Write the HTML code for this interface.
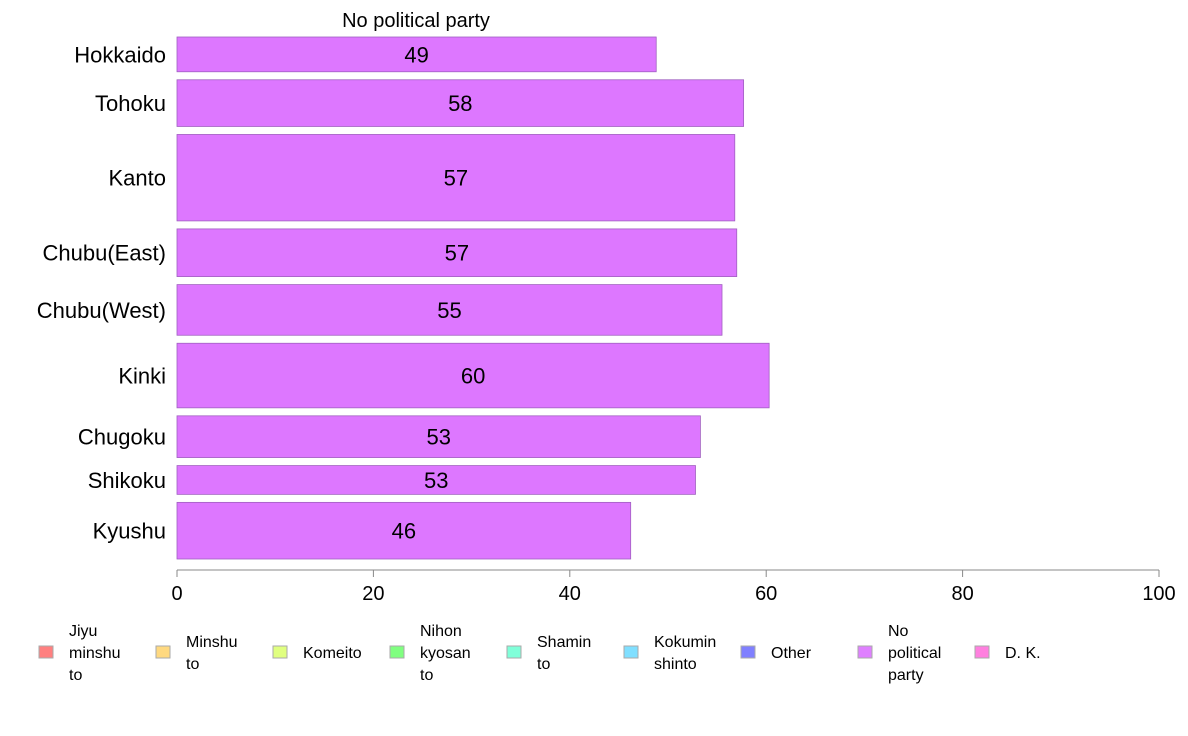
<!DOCTYPE html>
<html><head><meta charset="utf-8"><style>
body{margin:0;background:#fff;font-family:"Liberation Sans",Arial,sans-serif}
svg{display:block}
</style></head><body>
<svg id="c" width="1188" height="736" font-family="Liberation Sans, Arial, sans-serif"></svg>
<script>
const categories=["Hokkaido","Tohoku","Kanto","Chubu(East)","Chubu(West)","Kinki","Chugoku","Shikoku","Kyushu"];
const values=[48.8,57.7,56.8,57.0,55.5,60.3,53.3,52.8,46.2];
const labels=["49","58","57","57","55","60","53","53","46"];
const weights=[35,47,87,48,51,65,42,29,57];
const ticks=[0,20,40,60,80,100];
const legendNames=[["Jiyu","minshu","to"],["Minshu","to"],["Komeito"],["Nihon","kyosan","to"],["Shamin","to"],["Kokumin","shinto"],["Other"],["No","political","party"],["D. K."]];
const legendColors=["#ff8080","#ffd980","#e0ff80","#80ff80","#80ffd9","#80dfff","#8080ff","#df80ff","#ff80df"];
const ns="http://www.w3.org/2000/svg",svgEl=document.getElementById('c');
function mk(t,a,p){const e=document.createElementNS(ns,t);for(const k in a)e.setAttribute(k,a[k]);(p||svgEl).appendChild(e);return e;}
const x0=177,x1=1159,xs=v=>x0+(v/100)*(x1-x0);
const yTop=37,yBottom=559,gap=8;
const tot=weights.reduce((a,b)=>a+b,0),avail=yBottom-yTop-gap*(weights.length-1);
let t=mk('text',{x:416,y:27,'font-size':20,'text-anchor':'middle'});
t.textContent="No political party";


let y=yTop;
categories.forEach((c,i)=>{
 const h=weights[i]/tot*avail;
 const r=mk('rect',{x:x0,y:y,width:xs(values[i])-x0,height:h,fill:'#dd77ff',stroke:'#a060c0','stroke-width':0.8});
 
 
 const l=mk('text',{x:xs(values[i]/2),y:y+h/2+8,'font-size':22,'text-anchor':'middle'});
 l.textContent=labels[i];
 
 
 const cl=mk('text',{x:166,y:y+h/2+8,'font-size':22,'text-anchor':'end'});
 cl.textContent=c;
 
 
 y+=h+gap;
});
const ax=mk('line',{x1:x0,x2:x1,y1:570,y2:570,stroke:'#888'});


ticks.forEach(v=>{
 const tk=mk('line',{x1:xs(v),x2:xs(v),y1:570,y2:577,stroke:'#888'});
 
 
 const tl=mk('text',{x:xs(v),y:600,'font-size':20,'text-anchor':'middle'});
 tl.textContent=v;
 
 
});
legendNames.forEach((n,i)=>{
 const lx=39+i*117;
 const g=mk('g',{});
 
 
 mk('rect',{x:lx,y:646,width:14,height:12,fill:legendColors[i],stroke:'#aaa'},g);
 const start=652-(n.length-1)*11+6;
 n.forEach((w,j)=>{const tt=mk('text',{x:lx+30,y:start+j*22,'font-size':16},g);tt.textContent=w;});
});
</script>
</body></html>
